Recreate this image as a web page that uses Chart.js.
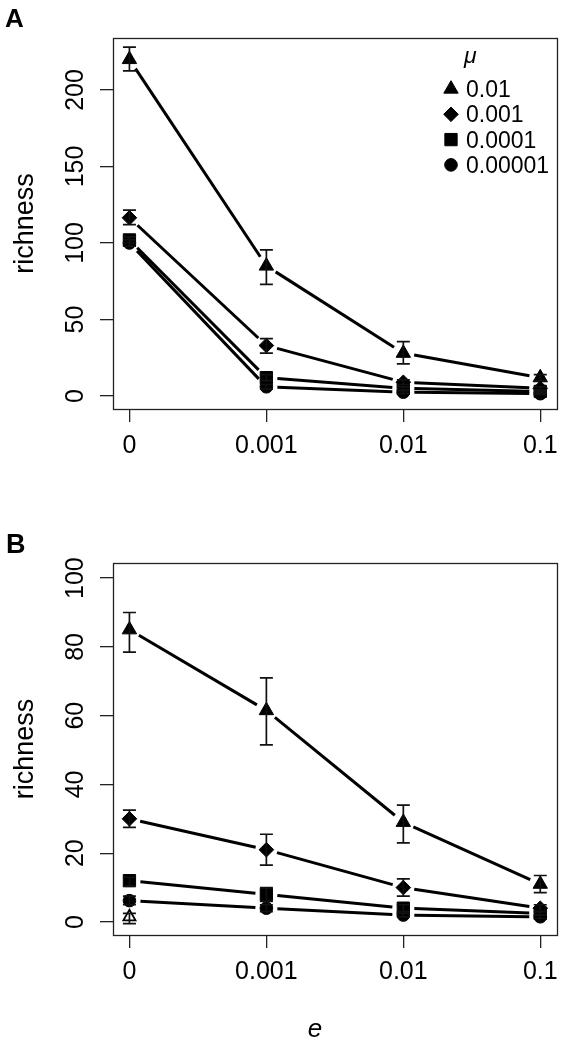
<!DOCTYPE html>
<html>
<head>
<meta charset="utf-8">
<script src="https://cdn.jsdelivr.net/npm/chart.js@4/dist/chart.umd.min.js"></script>
<style>
  html, body { margin: 0; padding: 0; background: #fff; }
  #wrap { position: relative; width: 567px; height: 1041px; }
  canvas { position: absolute; left: 0; }
</style>
</head>
<body>
<div id="wrap">
  <canvas id="chartA" width="567" height="520" style="top:0"></canvas>
  <canvas id="chartB" width="567" height="521" style="top:520px"></canvas>
</div>
<script>
// x categories (e) and legend labels (mu)
const eLabels = ['0', '0.001', '0.01', '0.1'];
const muLabels = ['0.01', '0.001', '0.0001', '0.00001'];
const yTicksA = [0, 50, 100, 150, 200];
const yTicksB = [0, 20, 40, 60, 80, 100];

// panel A: mean richness and error bar ends, one array per mu
const aTri = [220, 85, 28, 12];
const aTriLo = [212.5, 73, 21, 10];
const aTriHi = [228, 95.5, 35.5, 14];
const aDia = [116.5, 33, 9, 5];
const aDiaLo = [112, 28, 7.5, 4];
const aDiaHi = [121.5, 37.5, 10.5, 6];
const aSq = [102, 12, 5, 3];
const aSqLo = [100, 10, 4, 2.5];
const aSqHi = [104, 14, 6, 3.5];
const aCirc = [100, 6, 2.5, 1.5];
const aCircLo = [98, 4.5, 1.5, 1];
const aCircHi = [102, 7.5, 3.5, 2];

// panel B
const bTri = [85, 61.5, 29, 11];
const bTriLo = [78.5, 51.5, 23, 8.5];
const bTriHi = [90, 71, 34, 13.5];
const bDia = [30, 21, 10, 4];
const bDiaLo = [27.5, 16.5, 7.5, 3];
const bDiaHi = [32.5, 25.5, 12.5, 5];
const bSq = [12, 8, 4, 2.5];
const bSqLo = [10.5, 6, 3, 2];
const bSqHi = [13, 10, 5, 3];
const bCirc = [6.2, 4, 2, 1.5];
const bCircLo = [5, 3, 1.5, 1];
const bCircHi = [7.5, 5, 2.5, 2];
const bOpen = [1.5];
const bOpenLo = [-0.5];
const bOpenHi = [2.5];

const FONT = "'Liberation Sans', Arial, Helvetica, sans-serif";
const GAP = 11;

const markers = [
  { style: 'triangle', r: 8.3 },
  { style: 'rectRot', r: 7.3 },
  { style: 'rect', r: 8.7 },
  { style: 'circle', r: 6.3 },
];

function series(vals, lo, hi, m, joined) {
  return {
    data: vals.map((v, i) => ({ x: i + 1, y: v })),
    lo: lo, hi: hi,
    joined: joined,
    showLine: false,
    pointStyle: m.style,
    pointRadius: m.r,
    pointBackgroundColor: '#000',
    pointBorderColor: '#000',
    pointBorderWidth: 1,
  };
}

const rPlot = {
  id: 'rPlot',
  beforeDatasetsDraw(chart) {
    const ctx = chart.ctx;
    ctx.save();
    ctx.strokeStyle = '#000';
    ctx.lineWidth = 3;
    chart.data.datasets.forEach((ds, i) => {
      if (!ds.joined) return;
      const pts = chart.getDatasetMeta(i).data;
      for (let k = 0; k < pts.length - 1; k++) {
        const p = pts[k], q = pts[k + 1];
        const dx = q.x - p.x, dy = q.y - p.y;
        const len = Math.hypot(dx, dy);
        if (len < 2 * GAP) continue;
        const ux = dx / len, uy = dy / len;
        ctx.beginPath();
        ctx.moveTo(p.x + ux * GAP, p.y + uy * GAP);
        ctx.lineTo(q.x - ux * GAP, q.y - uy * GAP);
        ctx.stroke();
      }
    });
    ctx.restore();
  },
  afterDatasetsDraw(chart) {
    const ctx = chart.ctx, ys = chart.scales.y;
    ctx.save();
    ctx.strokeStyle = '#111';
    ctx.lineWidth = 1.7;
    chart.data.datasets.forEach((ds, i) => {
      if (!ds.lo) return;
      const pts = chart.getDatasetMeta(i).data;
      ds.lo.forEach((lo, k) => {
        const x = pts[k].x;
        const y0 = ys.getPixelForValue(lo), y1 = ys.getPixelForValue(ds.hi[k]);
        ctx.beginPath();
        ctx.moveTo(x, y0); ctx.lineTo(x, y1);
        ctx.moveTo(x - 6.5, y0); ctx.lineTo(x + 6.5, y0);
        ctx.moveTo(x - 6.5, y1); ctx.lineTo(x + 6.5, y1);
        ctx.stroke();
      });
    });
    ctx.restore();
  },
  afterDraw(chart, args, o) {
    const ctx = chart.ctx, a = chart.chartArea, ys = chart.scales.y;
    ctx.save();
    // box
    ctx.strokeStyle = '#222';
    ctx.lineWidth = 1.3;
    ctx.strokeRect(Math.round(a.left) + 0.5, Math.round(a.top) + 0.5,
      Math.round(a.right - a.left), Math.round(a.bottom - a.top));
    ctx.fillStyle = '#000';
    // y tick labels, rotated like R
    ctx.font = '25px ' + FONT;
    ctx.textAlign = 'center';
    ctx.textBaseline = 'alphabetic';
    o.yTicks.forEach(v => {
      ctx.save();
      ctx.translate(83, ys.getPixelForValue(v));
      ctx.rotate(-Math.PI / 2);
      ctx.fillText(String(v), 0, 0);
      ctx.restore();
    });
    // y title
    ctx.save();
    ctx.font = '27px ' + FONT;
    ctx.translate(33, (a.top + a.bottom) / 2);
    ctx.rotate(-Math.PI / 2);
    ctx.fillText('richness', 0, 0);
    ctx.restore();
    // panel letter
    ctx.textAlign = 'left';
    ctx.font = 'bold ' + o.letterSize + 'px ' + FONT;
    ctx.fillText(o.letter, o.letterX, o.letterY);
    // x title
    if (o.xTitle) {
      ctx.textAlign = 'center';
      ctx.font = 'italic 26px ' + FONT;
      ctx.fillText(o.xTitle, 315, 517);
    }
    // legend
    if (o.legend) {
      ctx.textAlign = 'left';
      ctx.font = 'italic 23px ' + FONT;
      ctx.fillText('\u03BC', 464, 63);
      ctx.font = '23px ' + FONT;
      muLabels.forEach((lab, i) => {
        const cy = 89 + i * 25.3;
        const m = markers[i];
        ctx.fillStyle = '#000';
        ctx.strokeStyle = '#000';
        ctx.lineWidth = 1;
        Chart.helpers.drawPoint(ctx, { pointStyle: m.style, radius: m.r, borderWidth: 1, rotation: 0 }, 451, cy);
        ctx.fillText(lab, 466, cy + 8);
      });
    }
    ctx.restore();
  }
};

function makeChart(id, datasets, yMin, yMax, yTicks, padTop, xHeight, extra) {
  return new Chart(document.getElementById(id), {
    type: 'scatter',
    data: { datasets: datasets },
    plugins: [rPlot],
    options: {
      responsive: false,
      animation: false,
      events: [],
      layout: { padding: { top: padTop, right: 7, left: 0, bottom: 0 } },
      scales: {
        x: {
          type: 'linear',
          min: 0.88,
          max: 4.12,
          afterBuildTicks: s => { s.ticks = eLabels.map((t, i) => ({ value: i + 1 })); },
          afterFit: s => { s.height = xHeight; },
          border: { display: false },
          grid: { drawOnChartArea: false, drawTicks: true, tickLength: 13, color: '#222', lineWidth: 1.3 },
          ticks: {
            callback: v => eLabels[v - 1],
            color: '#000',
            font: { family: FONT, size: 25 },
            padding: 9,
            maxRotation: 0,
            autoSkip: false,
          },
        },
        y: {
          type: 'linear',
          min: yMin,
          max: yMax,
          afterBuildTicks: s => { s.ticks = yTicks.map(v => ({ value: v })); },
          afterFit: s => { s.width = 113; },
          border: { display: false },
          grid: { drawOnChartArea: false, drawTicks: true, tickLength: 13, color: '#222', lineWidth: 1.3 },
          ticks: { display: false },
        },
      },
      plugins: {
        legend: { display: false },
        tooltip: { enabled: false },
        rPlot: extra,
      },
    },
  });
}

makeChart('chartA', [
  series(aTri, aTriLo, aTriHi, markers[0], true),
  series(aDia, aDiaLo, aDiaHi, markers[1], true),
  series(aSq, aSqLo, aSqHi, markers[2], true),
  series(aCirc, aCircLo, aCircHi, markers[3], true),
], -8.5, 234, yTicksA, 38, 111,
  { yTicks: yTicksA, letter: 'A', letterSize: 26, letterX: 5, letterY: 27, legend: true, xTitle: null });

const openTri = series(bOpen, bOpenLo, bOpenHi, { style: 'triangle', r: 7 }, false);
openTri.pointBackgroundColor = '#fff';
openTri.pointBorderWidth = 1.8;

makeChart('chartB', [
  openTri,
  series(bTri, bTriLo, bTriHi, markers[0], true),
  series(bDia, bDiaLo, bDiaHi, markers[1], true),
  series(bSq, bSqLo, bSqHi, markers[2], true),
  series(bCirc, bCircLo, bCircHi, markers[3], true),
], -3.8, 104.4, yTicksB, 43, 106,
  { yTicks: yTicksB, letter: 'B', letterSize: 27, letterX: 6, letterY: 33, legend: false, xTitle: 'e' });
</script>
</body>
</html>
